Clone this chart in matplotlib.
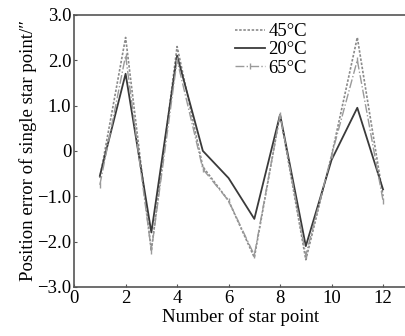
import numpy as np
import matplotlib.pyplot as plt

plt.rcParams['font.family'] = ['Liberation Serif', 'DejaVu Serif']

# star point index
stars = [1, 2, 3, 4, 5, 6, 7, 8, 9, 10, 11, 12]
# position error (arcsec)
err_45 = [-0.6, 2.5, -2.2, 2.3, -0.35, -1.1, -2.35, 0.8, -2.4, -0.1, 2.5, -1.0]
err_20 = [-0.55, 1.7, -1.8, 2.1, 0.0, -0.6, -1.5, 0.8, -2.1, -0.2, 0.95, -0.85]
err_65 = [-0.75, 2.1, -2.2, 2.0, -0.4, -1.1, -2.3, 0.8, -2.3, -0.1, 2.0, -1.1]

yticks = [-3, -2, -1, 0, 1, 2, 3]
ylabels = ['\u22123.0', '\u22122.0', '\u22121.0', '0', '1.0', '2.0', '3.0']

fs = 13.5

fig = plt.figure(figsize=(4.05, 3.36), dpi=100)
ax = fig.add_axes([0.183, 0.146, 0.82, 0.81])

ax.plot(stars, err_45, color='#8a8a8a', ls=(0, (1.5, 1)), lw=1.2, label='45\u00b0C')
ax.plot(stars, err_20, color='#3a3a3a', ls='-', lw=1.3, label='20\u00b0C')
ax.plot(stars, err_65, color='#9a9a9a', ls='-.', lw=1.0, marker='|', ms=4, label='65\u00b0C')

ax.set_xlim(0, 12.9)
ax.set_ylim(-3, 3)
ax.set_xticks(range(0, 13, 2))
ax.set_yticks(yticks)
ax.set_yticklabels(ylabels)
ax.tick_params(direction='in', length=2, labelsize=fs, color='#555555', pad=2)
ax.spines['right'].set_visible(False)
for s in ['left', 'bottom', 'top']:
    ax.spines[s].set_color('#555555')
    ax.spines[s].set_linewidth(1.2)

ax.set_xlabel('Number of star point', fontsize=fs, labelpad=1)
ax.set_ylabel('Position error of single star point/\u2033', fontsize=fs, labelpad=0)

ax.legend(loc='upper left', bbox_to_anchor=(0.45, 1.01), frameon=False,
          fontsize=fs, handlelength=1.6, handletextpad=0.2, labelspacing=0.05,
          borderaxespad=0.2)

fig.savefig('out.png', dpi=100)
